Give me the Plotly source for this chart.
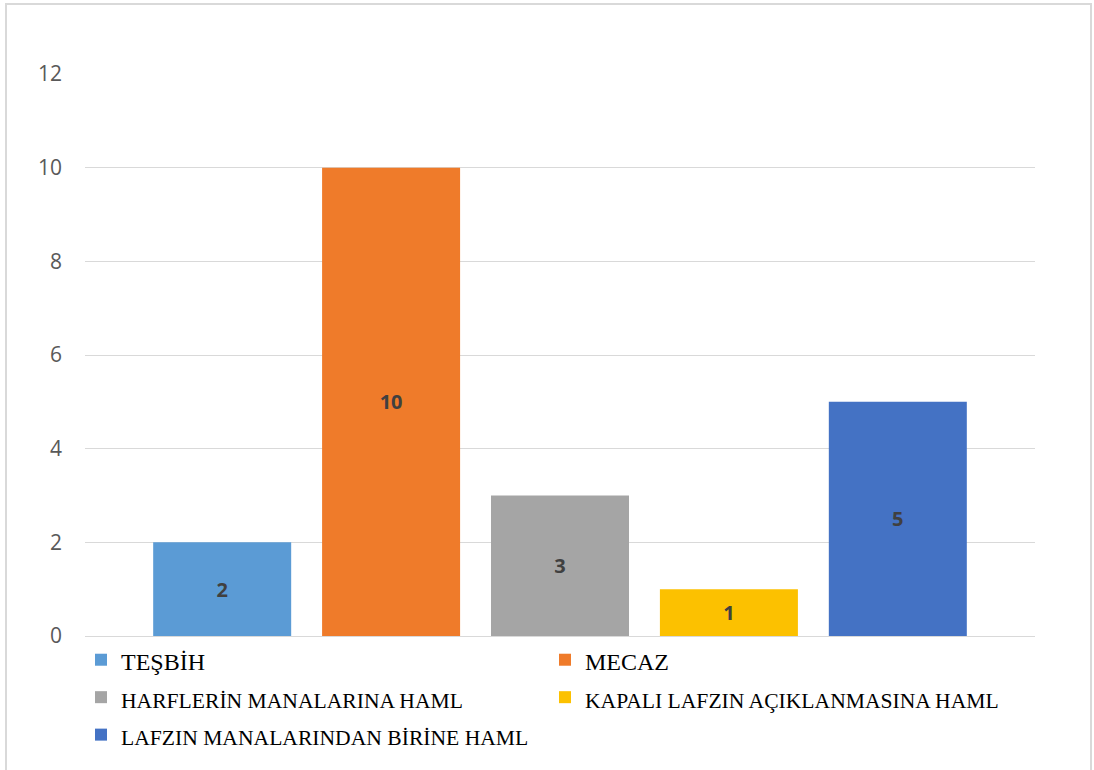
import plotly.graph_objects as go

# ---- data ----
series_names = [
    "TEŞBİH",
    "MECAZ",
    "HARFLERİN MANALARINA HAML",
    "KAPALI LAFZIN AÇIKLANMASINA HAML",
    "LAFZIN MANALARINDAN BİRİNE HAML",
]
series_values = [2, 10, 3, 1, 5]
category = [""]
y_ticks = [0, 2, 4, 6, 8, 10, 12]

# ---- styles ----
colors = ["#5b9bd5", "#ef7b2a", "#a5a5a5", "#fcc100", "#4472c4"]
legend_sizes = [24, 24, 21.6, 21.6, 21.6]

W, H = 1094, 770
L, R, T, B = 85, 59, 74, 134
pw, ph = W - L - R, H - T - B

fig = go.Figure()
for name, val, col, fs in zip(series_names, series_values, colors, legend_sizes):
    fig.add_trace(go.Bar(
        x=category,
        y=[val],
        name=f"<span style='font-size:{fs}px'>{name}</span>",
        marker=dict(color=col, line=dict(width=0)),
        text=[val],
        texttemplate="<b>%{text}</b>",
        textposition="inside",
        insidetextanchor="middle",
        textangle=0,
        textfont=dict(family="Open Sans", size=20, color="#404040"),
        hoverinfo="skip",
    ))

# chart border (layout decoration)
fig.add_shape(
    type="rect", xref="paper", yref="paper",
    x0=(6 - L) / pw, x1=(1091 - L) / pw,
    y0=(T + ph - 800) / ph, y1=(T + ph - 4) / ph,
    line=dict(color="#d9d9d9", width=2), fillcolor="rgba(0,0,0,0)", layer="below",
)

fig.update_layout(
    width=W, height=H,
    margin=dict(l=L, r=R, t=T, b=B, autoexpand=False),
    paper_bgcolor="white", plot_bgcolor="white",
    barmode="group",
    bargap=0.111,
    bargroupgap=0.183,
    showlegend=True,
    legend=dict(
        orientation="h",
        x=-4 / pw, xanchor="left",
        y=0, yanchor="top",
        entrywidth=419, entrywidthmode="pixels",
        font=dict(family="Liberation Serif, Times New Roman, serif", size=26.5, color="#000000"),
        bgcolor="rgba(0,0,0,0)",
        traceorder="normal",
    ),
    xaxis=dict(showticklabels=False, showgrid=False, zeroline=False, showline=False, ticks=""),
    yaxis=dict(
        range=[0, 12],
        tickvals=y_ticks,
        showgrid=True, gridcolor="#d9d9d9", gridwidth=1,
        zeroline=True, zerolinecolor="#d9d9d9", zerolinewidth=1,
        showline=False, ticks="",
        ticklabelstandoff=22,
        tickfont=dict(family="Open Sans", size=21, color="#595959"),
    ),
)

fig.write_html(
    "out.html",
    config={"displayModeBar": False},
    post_script="document.body.style.margin='0';document.body.style.overflow='hidden';",
)
